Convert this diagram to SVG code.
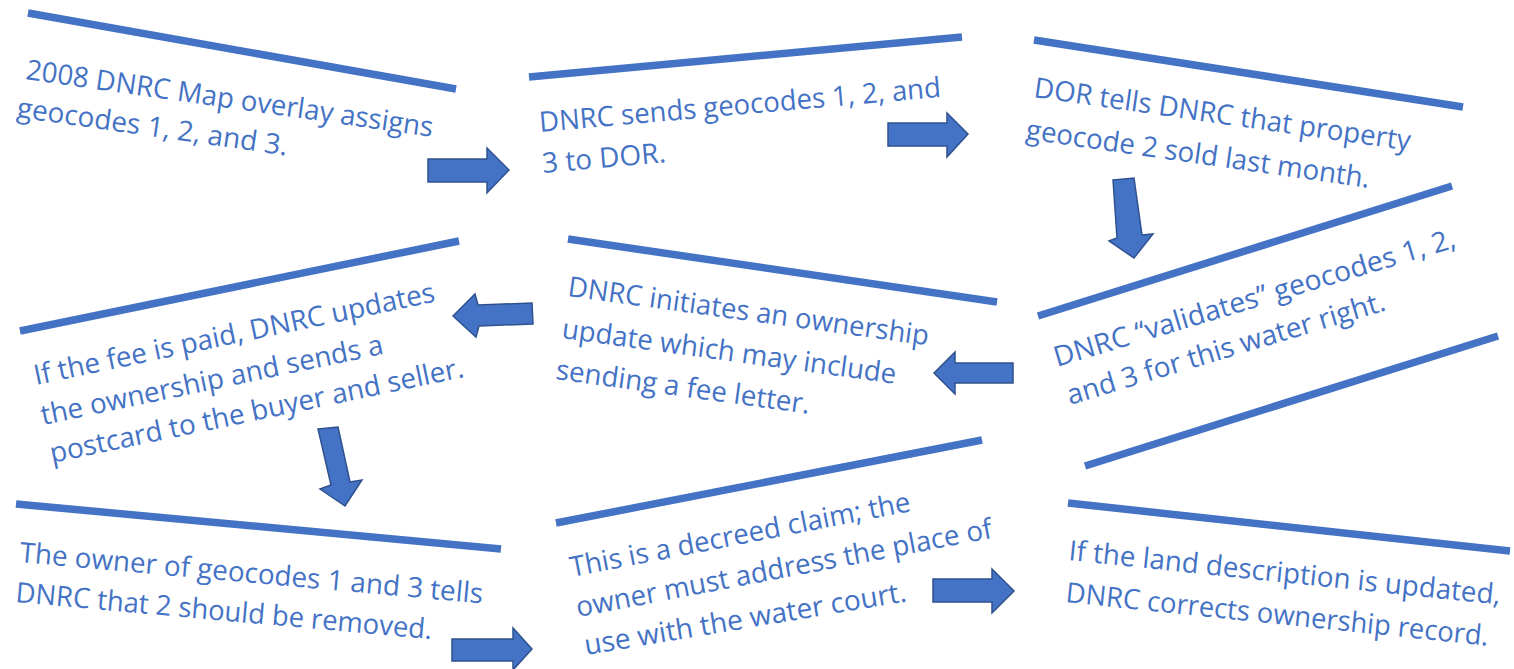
<svg xmlns="http://www.w3.org/2000/svg" width="1514" height="669" viewBox="0 0 1514 669">
<style>
  .bar { stroke: #4472C4; stroke-width: 7.5; fill: none; }
  .t { font-family: "Open Sans", "Liberation Sans", sans-serif; font-size: 28px; fill: #4472C4; }
  .arr { fill: #4472C4; stroke: #2F528F; stroke-width: 1.5; stroke-linejoin: miter; }
</style>
<rect width="1514" height="669" fill="#FFFFFF"/>

<g id="n1">
  <line class="bar" x1="28" y1="13" x2="456" y2="89"/>
  <text class="t" x="25" y="79" transform="rotate(8.1 25 79)" textLength="411" lengthAdjust="spacingAndGlyphs">2008 DNRC Map overlay assigns</text>
  <text class="t" x="16" y="117" transform="rotate(8.1 16 117)" textLength="273" lengthAdjust="spacingAndGlyphs">geocodes 1, 2, and 3.</text>
</g>

<g id="n2">
  <line class="bar" x1="529" y1="77" x2="962" y2="37"/>
  <text class="t" x="540" y="132" transform="rotate(-5 540 132)" textLength="403" lengthAdjust="spacingAndGlyphs">DNRC sends geocodes 1, 2, and</text>
  <text class="t" x="543" y="173" transform="rotate(-5 543 173)" textLength="124" lengthAdjust="spacingAndGlyphs">3 to DOR.</text>
</g>

<g id="n3">
  <line class="bar" x1="1034" y1="40" x2="1463" y2="107"/>
  <text class="t" x="1033" y="97" transform="rotate(8.1 1033 97)" textLength="380" lengthAdjust="spacingAndGlyphs">DOR tells DNRC that property</text>
  <text class="t" x="1025" y="139" transform="rotate(8.1 1025 139)" textLength="347" lengthAdjust="spacingAndGlyphs">geocode 2 sold last month.</text>
</g>

<g id="n4">
  <line class="bar" x1="1038" y1="316" x2="1452" y2="186"/>
  <line class="bar" x1="1085" y1="466" x2="1498" y2="336"/>
  <text class="t" x="1057" y="367" transform="rotate(-16.7 1057 367)" textLength="418" lengthAdjust="spacingAndGlyphs">DNRC “validates” geocodes 1, 2,</text>
  <text class="t" x="1070" y="405" transform="rotate(-16.7 1070 405)" textLength="331" lengthAdjust="spacingAndGlyphs">and 3 for this water right.</text>
</g>

<g id="n5">
  <line class="bar" x1="568" y1="239" x2="997" y2="302"/>
  <text class="t" x="567" y="296" transform="rotate(7.8 567 296)" textLength="364" lengthAdjust="spacingAndGlyphs">DNRC initiates an ownership</text>
  <text class="t" x="561" y="338" transform="rotate(7.8 561 338)" textLength="337" lengthAdjust="spacingAndGlyphs">update which may include</text>
  <text class="t" x="555" y="379" transform="rotate(7.8 555 379)" textLength="256" lengthAdjust="spacingAndGlyphs">sending a fee letter.</text>
</g>

<g id="n6">
  <line class="bar" x1="20" y1="331" x2="459" y2="241"/>
  <text class="t" x="36" y="385" transform="rotate(-11.8 36 385)" textLength="409" lengthAdjust="spacingAndGlyphs">If the fee is paid, DNRC updates</text>
  <text class="t" x="43" y="425" transform="rotate(-11.8 43 425)" textLength="349" lengthAdjust="spacingAndGlyphs">the ownership and sends a</text>
  <text class="t" x="52" y="463" transform="rotate(-11.8 52 463)" textLength="422" lengthAdjust="spacingAndGlyphs">postcard to the buyer and seller.</text>
</g>

<g id="n7">
  <line class="bar" x1="16" y1="504" x2="501" y2="549"/>
  <text class="t" x="19" y="562" transform="rotate(5.1 19 562)" textLength="465" lengthAdjust="spacingAndGlyphs">The owner of geocodes 1 and 3 tells</text>
  <text class="t" x="15" y="602" transform="rotate(5.1 15 602)" textLength="418" lengthAdjust="spacingAndGlyphs">DNRC that 2 should be removed.</text>
</g>

<g id="n8">
  <line class="bar" x1="556" y1="523" x2="982" y2="440"/>
  <text class="t" x="572" y="577" transform="rotate(-11 572 577)" textLength="346" lengthAdjust="spacingAndGlyphs">This is a decreed claim; the</text>
  <text class="t" x="578" y="617" transform="rotate(-10.8 578 617)" textLength="423" lengthAdjust="spacingAndGlyphs">owner must address the place of</text>
  <text class="t" x="586" y="655" transform="rotate(-9.5 586 655)" textLength="326" lengthAdjust="spacingAndGlyphs">use with the water court.</text>
</g>

<g id="n9">
  <line class="bar" x1="1068" y1="503" x2="1510" y2="551"/>
  <text class="t" x="1068" y="560" transform="rotate(5.9 1068 560)" textLength="434" lengthAdjust="spacingAndGlyphs">If the land description is updated,</text>
  <text class="t" x="1065" y="602" transform="rotate(5.9 1065 602)" textLength="425" lengthAdjust="spacingAndGlyphs">DNRC corrects ownership record.</text>
</g>

<g id="connectors">
  <path class="arr" d="M428,159 L487,159 L487,148 L509,170 L487,193 L487,182 L428,182 Z"/>
  <path class="arr" d="M888,123 L947,123 L947,113 L968,134 L947,157 L947,146 L888,146 Z"/>
  <path class="arr" d="M1113,180 L1134,178 L1142,235 L1153,234 L1134,258 L1109,241 L1117,238 Z"/>
  <path class="arr" d="M934,373 L955,352 L955,363 L1013,363 L1013,383 L955,383 L955,394 Z"/>
  <path class="arr" d="M453,316 L475,294 L478,305 L532,303 L533,324 L479,326 L476,337 Z"/>
  <path class="arr" d="M318,429 L338,427 L350,482 L362,480 L345,506 L320,489 L331,485 Z"/>
  <path class="arr" d="M452,639 L513,639 L513,628 L532,649 L513,670 L513,661 L452,661 Z"/>
  <path class="arr" d="M933,579 L992,579 L992,569 L1014,591 L992,613 L992,602 L933,602 Z"/>
</g>
</svg>
